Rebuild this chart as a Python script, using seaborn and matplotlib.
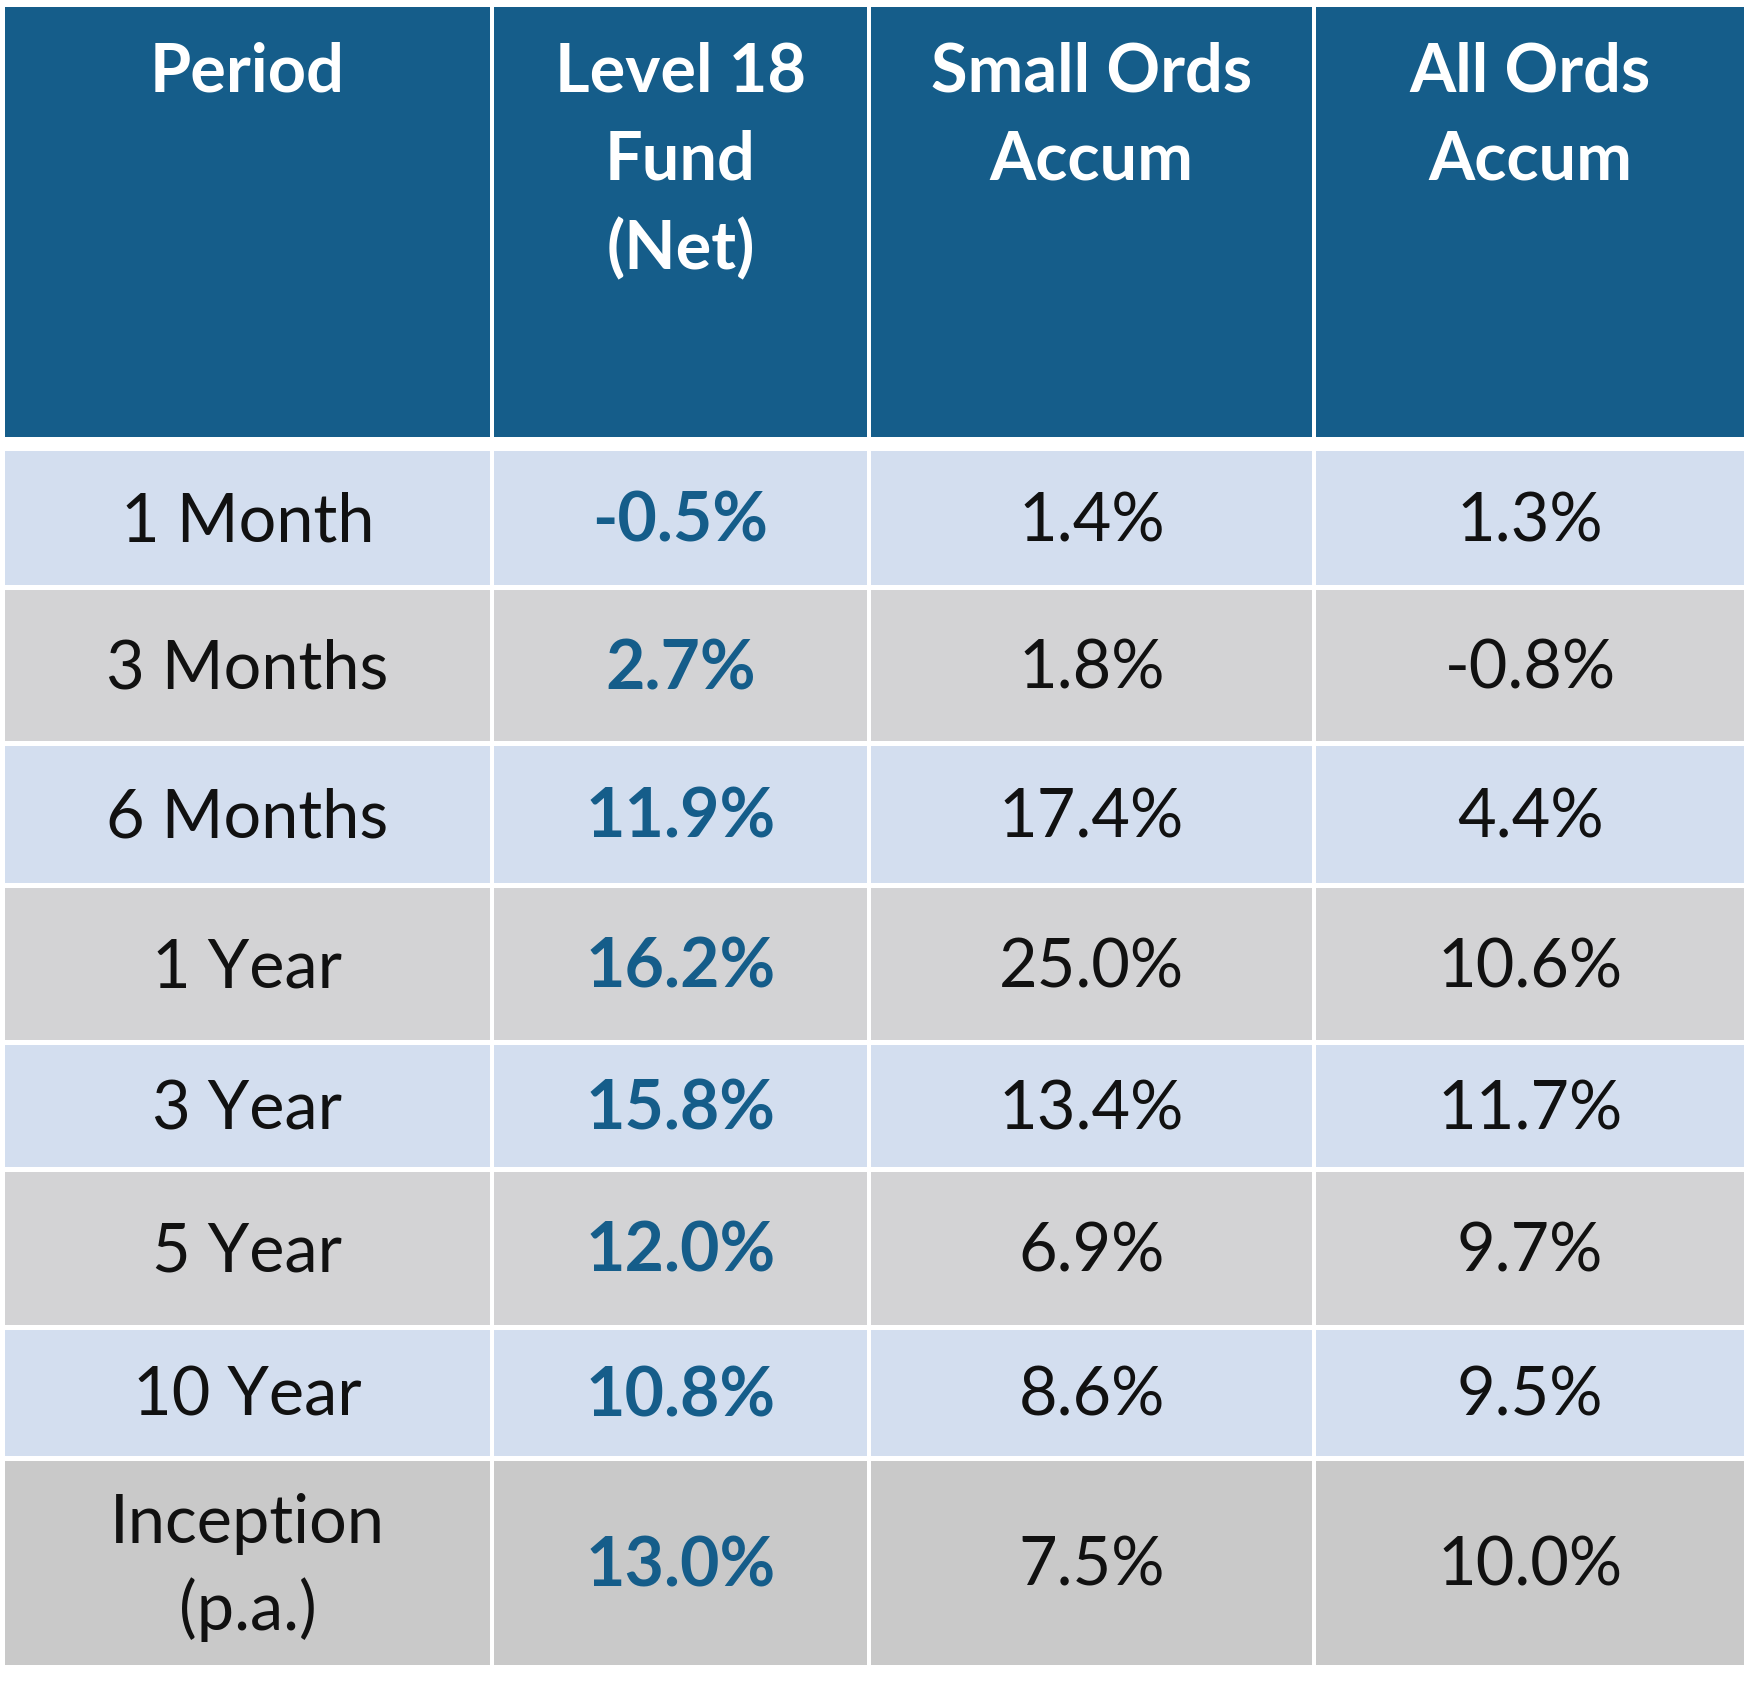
import matplotlib
matplotlib.use("Agg")
import matplotlib.pyplot as plt
import pandas as pd
import seaborn as sns

# table content
columns = ["Period", "Level 18\nFund\n(Net)", "Small Ords\nAccum", "All Ords\nAccum"]
periods = ["1 Month", "3 Months", "6 Months", "1 Year", "3 Year", "5 Year", "10 Year", "Inception\n(p.a.)"]
fund_net = ["-0.5%", "2.7%", "11.9%", "16.2%", "15.8%", "12.0%", "10.8%", "13.0%"]
small_ords = ["1.4%", "1.8%", "17.4%", "25.0%", "13.4%", "6.9%", "8.6%", "7.5%"]
all_ords = ["1.3%", "-0.8%", "4.4%", "10.6%", "11.7%", "9.7%", "9.5%", "10.0%"]

# layout in pixels (figure is 1756 x 1696)
col_edges = [(5, 490), (494, 867), (871, 1312), (1316, 1744)]
header_edge = (7, 437)
row_edges = [(451, 585), (590, 741), (746, 883), (888, 1040),
             (1045, 1167), (1172, 1325), (1330, 1456), (1461, 1665)]

HEADER = "#155d8a"
BLUE_ROW = "#d3deef"
GRAY_ROW = "#d3d3d5"
LAST_ROW = "#c9c9c9"
row_colors = [BLUE_ROW, GRAY_ROW] * 3 + [BLUE_ROW, LAST_ROW]

sns.set_theme(style="white")
plt.rcParams["font.family"] = ["Lato", "DejaVu Sans"]

fig = plt.figure(figsize=(17.56, 16.96), dpi=100)
ax = fig.add_axes([0, 0, 1, 1])

# build cell table
cells = []
for c, (x0, x1) in enumerate(col_edges):
    cells.append(dict(x=(x0 + x1) / 2, w=x1 - x0, y0=header_edge[0],
                      h=header_edge[1] - header_edge[0], color=HEADER))
    for r, (y0, y1) in enumerate(row_edges):
        cells.append(dict(x=(x0 + x1) / 2, w=x1 - x0, y0=y0, h=y1 - y0, color=row_colors[r]))
cells = pd.DataFrame(cells)

ax.bar(cells["x"], cells["h"], width=cells["w"], bottom=cells["y0"],
       color=cells["color"], linewidth=0, align="center")

ax.set_xlim(0, 1756)
ax.set_ylim(1696, 0)
ax.axis("off")

# header text, top aligned
for c, label in enumerate(columns):
    xc = sum(col_edges[c]) / 2
    for i, line in enumerate(label.split("\n")):
        ax.text(xc, header_edge[0] + 65 + i * 89, line, ha="center", va="center",
                fontsize=48, fontweight="bold", color="white")

# body text
body = [periods, fund_net, small_ords, all_ords]
for c, values in enumerate(body):
    xc = sum(col_edges[c]) / 2
    for r, val in enumerate(values):
        yc = sum(row_edges[r]) / 2 + 4
        lines = val.split("\n")
        for i, line in enumerate(lines):
            y = yc + (i - (len(lines) - 1) / 2) * 86
            if c == 1:
                ax.text(xc, y, line, ha="center", va="center", fontsize=49,
                        fontweight="bold", color=HEADER)
            else:
                ax.text(xc, y, line, ha="center", va="center", fontsize=48,
                        color="#111111")

fig.savefig("out.png", dpi=100, facecolor="white")
